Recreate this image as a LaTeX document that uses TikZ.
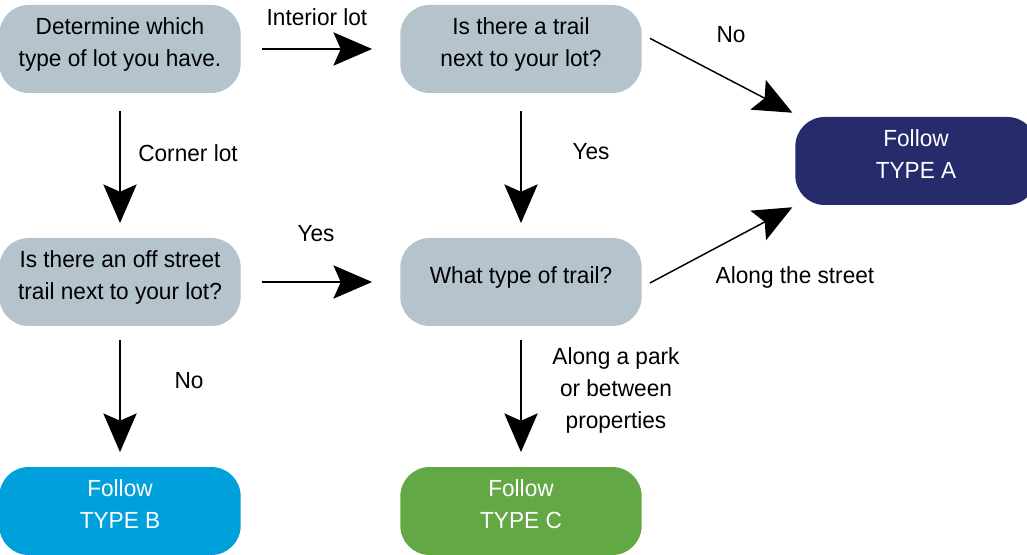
\documentclass[tikz,border=0pt]{standalone}
\usepackage{fontspec}
\setmainfont[FakeStretch=0.97]{Liberation Sans}
\usetikzlibrary{arrows.meta}
\definecolor{greybox}{RGB}{180,195,204}
\definecolor{navybox}{RGB}{38,44,107}
\definecolor{cyanbox}{RGB}{0,160,220}
\definecolor{greenbox}{RGB}{98,168,68}
\begin{document}
\begin{tikzpicture}[x=0.75pt,y=-0.75pt,
  box/.style={rounded corners=22pt, minimum width=181pt, minimum height=66pt,
    align=center, inner sep=0pt, text depth=10pt, font=\fontsize{17.5}{24}\selectfont},
  qbox/.style={box, fill=greybox, text=black},
  fbox/.style={box, text=white},
  lbl/.style={align=center, inner sep=0pt, font=\fontsize{17.5}{24}\selectfont},
  arr/.style={line width=1.1pt, -{Stealth[length=29pt,width=25pt,inset=5.5pt]}}]
\useasboundingbox (0,0) rectangle (1027,555);
\node[qbox] (det) at (120,49) {Determine which\\type of lot you have.};
\node[qbox] (trail) at (521,49) {Is there a trail\\next to your lot?};
\node[fbox, fill=navybox] (A) at (916,161) {Follow\\TYPE A};
\node[qbox] (off) at (120,282) {Is there an off street\\trail next to your lot?};
\node[qbox] (what) at (521,282) {What type of trail?};
\node[fbox, fill=cyanbox] (B) at (120,511) {Follow\\TYPE B};
\node[fbox, fill=greenbox] (C) at (521,511) {Follow\\TYPE C};

\draw[arr, shorten <=15.75pt, shorten >=21pt] (det) -- (trail);
\draw[arr, shorten <=15.75pt, shorten >=21pt] (off) -- (what);
\draw[arr, shorten <=13.5pt, shorten >=11pt] (det) -- (off);
\draw[arr, shorten <=13.5pt, shorten >=11pt] (trail) -- (what);
\draw[arr, shorten <=10.5pt, shorten >=11pt] (off) -- (B);
\draw[arr, shorten <=10.5pt, shorten >=11pt] (what) -- (C);
\draw[arr] ([xshift=6pt,yshift=8pt]trail.east) -- ([xshift=-2pt,yshift=3pt]A.north west);
\draw[arr] ([xshift=6pt,yshift=-0.75pt]what.east) -- ([xshift=-2pt,yshift=-1.5pt]A.south west);

\node[lbl] (l1) at (317,17) {Interior lot};
\node[lbl] (l2) at (188,153) {Corner lot};
\node[lbl] (l3) at (591,152) {Yes};
\node[lbl] (l4) at (316,234) {Yes};
\node[lbl] (l5) at (731,35) {No};
\node[lbl] (l6) at (795,277) {Along the street};
\node[lbl] (l7) at (189,381) {No};
\node[lbl] (l8) at (616,390) {Along a park\\or between\\properties};
\end{tikzpicture}
\end{document}
